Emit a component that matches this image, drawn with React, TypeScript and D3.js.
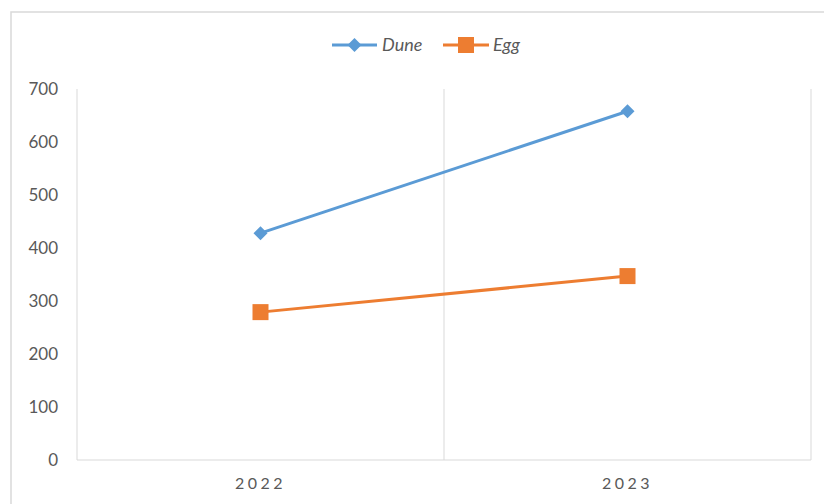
import React from "react";
import * as d3 from "d3";

const categories = ["2022", "2023"];
const duneValues = [428, 658];
const eggValues = [279, 347];
const yTicks = [0, 100, 200, 300, 400, 500, 600, 700];

const W = 824;
const H = 504;
const plot = { left: 77, right: 811, top: 89, bottom: 460 };
const BLUE = "#5B9BD5";
const ORANGE = "#ED7D31";
const GRID = "#D9D9D9";
const TEXT = "#595959";
const FONT = "Lato, 'Open Sans', sans-serif";

export default function App() {
  const x = d3.scaleBand<string>().domain(categories).range([plot.left, plot.right]);
  const y = d3.scaleLinear().domain([0, 700]).range([plot.bottom, plot.top]);
  const cx = (c: string) => (x(c) ?? 0) + x.bandwidth() / 2;

  const line = d3
    .line<[string, number]>()
    .x((d) => cx(d[0]))
    .y((d) => y(d[1]));

  const dune = categories.map((c, i) => [c, duneValues[i]] as [string, number]);
  const egg = categories.map((c, i) => [c, eggValues[i]] as [string, number]);

  const diamond = (px: number, py: number, r: number) =>
    `M${px},${py - r}L${px + r},${py}L${px},${py + r}L${px - r},${py}Z`;

  // vertical gridlines on category boundaries
  const boundaries = [plot.left, ...categories.map((c) => (x(c) ?? 0) + x.bandwidth())];

  return (
    <svg width={W} height={H} style={{ position: "absolute", left: 0, top: 0 }} fontFamily={FONT}>
      <rect x={0} y={0} width={W} height={H} fill="#fff" />
      <rect x={11} y={12} width={W} height={H} fill="#fff" stroke={GRID} strokeWidth={1.5} />

      {boundaries.map((bx, i) => (
        <line key={i} x1={bx} x2={bx} y1={plot.top} y2={plot.bottom} stroke={GRID} strokeWidth={1} />
      ))}
      <line x1={plot.left} x2={plot.right} y1={plot.bottom} y2={plot.bottom} stroke={GRID} strokeWidth={1} />

      {yTicks.map((t) => (
        <text key={t} x={58} y={y(t)} dy="0.36em" textAnchor="end" fontSize={17} fill={TEXT}>
          {t}
        </text>
      ))}

      {categories.map((c) => (
        <text key={c} x={cx(c)} y={489} textAnchor="middle" fontSize={16} letterSpacing={3.5} fill={TEXT}>
          {c}
        </text>
      ))}

      <path d={line(dune) ?? ""} fill="none" stroke={BLUE} strokeWidth={3} />
      <path d={line(egg) ?? ""} fill="none" stroke={ORANGE} strokeWidth={3} />

      {dune.map((d) => (
        <path key={d[0]} d={diamond(cx(d[0]), y(d[1]), 7)} fill={BLUE} />
      ))}
      {egg.map((d) => (
        <rect key={d[0]} x={cx(d[0]) - 8} y={y(d[1]) - 8} width={16} height={16} fill={ORANGE} />
      ))}

      {/* legend */}
      <g>
        <line x1={332} x2={377} y1={45} y2={45} stroke={BLUE} strokeWidth={3} />
        <path d={diamond(354.5, 45, 7)} fill={BLUE} />
        <text x={382} y={45} dy="0.36em" fontSize={18} fontStyle="italic" fill={TEXT}>
          Dune
        </text>
        <line x1={443} x2={489} y1={45} y2={45} stroke={ORANGE} strokeWidth={3} />
        <rect x={458} y={37} width={16} height={16} fill={ORANGE} />
        <text x={493} y={45} dy="0.36em" fontSize={18} fontStyle="italic" fill={TEXT}>
          Egg
        </text>
      </g>
    </svg>
  );
}
